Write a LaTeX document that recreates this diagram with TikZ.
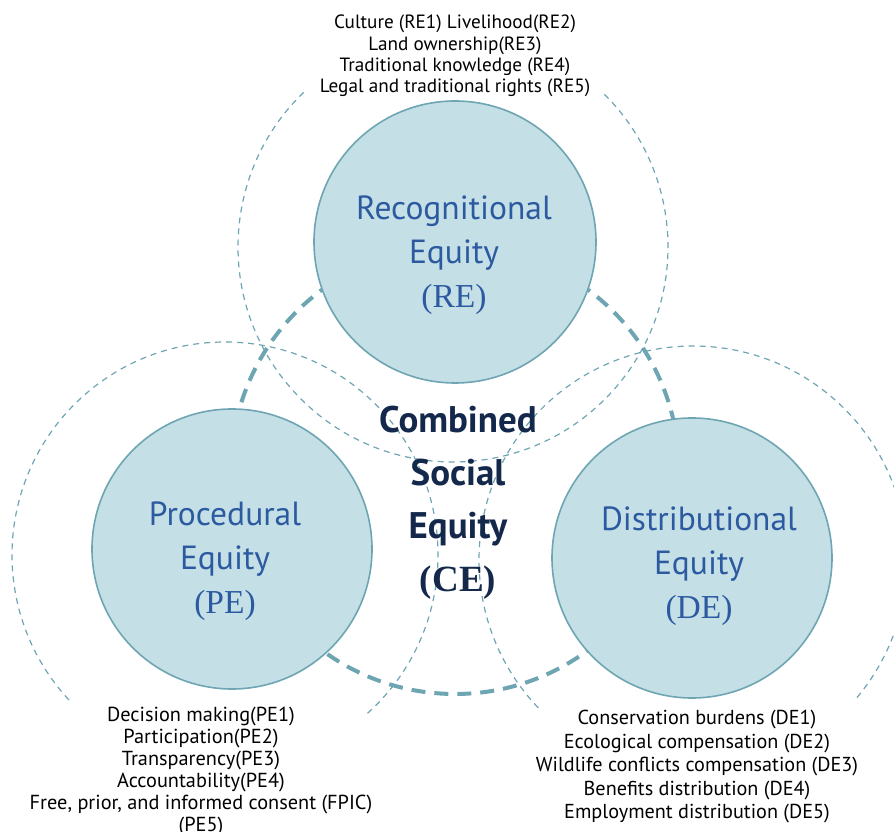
\documentclass[tikz,border=0pt]{standalone}
\usepackage{fontspec}
\setmainfont{PT Sans}
\newfontfamily\parenfont{Liberation Serif}

\definecolor{ringline}{HTML}{6EA5B2}
\definecolor{discfill}{HTML}{C5DFE6}
\definecolor{labelblue}{HTML}{2C5AA0}
\definecolor{navy}{HTML}{14284B}

\def \circRE{ (455,590) circle (141pt) }
\def \circPE{ (232,283) circle (140pt) }
\def \circDE{ (692,274) circle (140pt) }

\begin{document}
\begin{tikzpicture}[x=1pt,y=1pt,
    ring/.style={ringline, line width=1.2pt, dash pattern=on 6pt off 5pt},
    disc/.style={fill=discfill, draw=ringline, line width=1.6pt},
    equity/.style={labelblue, align=center, font=\fontsize{33.5}{44}\selectfont},
    items/.style={black, align=center, font=\fontsize{19.2}{21.4}\selectfont}]

    \useasboundingbox (0,0) rectangle (894,832);

    % big ring of the combined equity
    \draw[ringline, line width=4pt, dash pattern=on 14pt off 9pt] (455,362) circle (224pt);

    % thin rings, left open at the lists
    \draw[ring] (453,585) ++(134:215pt) arc (134:406:215pt);
    \draw[ring] (225,277) ++(-48:213pt) arc (-48:224:213pt);
    \draw[ring] (693,272) ++(-40:214pt) arc (-40:224:214pt);

    \draw[disc] \circRE;
    \draw[disc] \circPE;
    \draw[disc] \circDE;

    \node[equity] (re) at (454,577) {Recognitional\\Equity\\{\parenfont(RE)}};
    \node[equity] (pe) at (225,271) {Procedural\\Equity\\{\parenfont(PE)}};
    \node[equity] (de) at (699,266) {Distributional\\Equity\\{\parenfont(DE)}};

    \node[navy, align=center, font=\fontsize{37}{53}\selectfont\bfseries] (ce) at (458,329)
      {Combined\\Social\\Equity\\{\parenfont(CE)}};

    \node[items] (relist) at (455,776) {Culture (RE1) Livelihood(RE2)\\Land ownership(RE3)\\
      Traditional knowledge (RE4)\\Legal and traditional rights (RE5)};
    \node[items, font=\fontsize{20.3}{22}\selectfont] (pelist) at (201,60) {Decision making(PE1)\\Participation(PE2)\\
      Transparency(PE3)\\Accountability(PE4)\\Free, prior, and informed consent (FPIC)\\(PE5)};
    \node[items, font=\fontsize{20.2}{23.5}\selectfont] (delist) at (697,65) {Conservation burdens (DE1)\\
      Ecological compensation (DE2)\\Wildlife conflicts compensation (DE3)\\
      Benefits distribution (DE4)\\Employment distribution (DE5)};

  \end{tikzpicture}
\end{document}
